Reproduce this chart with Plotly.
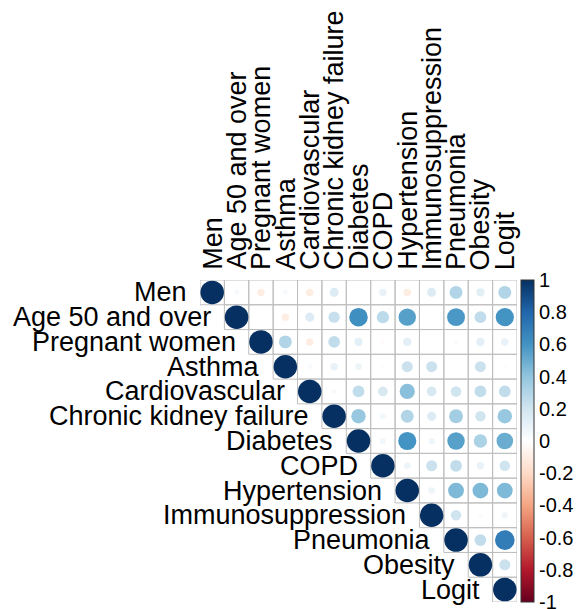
import plotly.graph_objects as go

labels = ["Men", "Age 50 and over", "Pregnant women", "Asthma", "Cardiovascular",
          "Chronic kidney failure", "Diabetes", "COPD", "Hypertension",
          "Immunosuppression", "Pneumonia", "Obesity", "Logit"]

# upper-triangle correlations, each row starts at the diagonal
r_men = [1, 0.04, -0.10, 0.04, -0.10, 0.15, 0.0, 0.10, -0.10, 0.15, 0.30, 0.12, 0.30]
r_age = [1, -0.01, -0.10, 0.15, 0.23, 0.62, 0.27, 0.55, 0.0, 0.58, 0.25, 0.60]
r_preg = [1, 0.30, -0.10, 0.25, 0.12, -0.03, 0.12, 0.0, 0.03, 0.12, 0.10]
r_asthma = [1, 0.04, 0.10, 0.08, 0.02, 0.22, 0.22, 0.02, 0.22, 0.02]
r_cardio = [1, 0.04, 0.25, 0.17, 0.42, 0.17, 0.20, 0.25, 0.25]
r_ckf = [1, 0.38, 0.06, 0.30, 0.15, 0.35, 0.20, 0.38]
r_diab = [1, 0.06, 0.60, 0.07, 0.55, 0.32, 0.50]
r_copd = [1, 0.08, 0.22, 0.25, 0.10, 0.20]
r_hyper = [1, 0.08, 0.45, 0.45, 0.45]
r_immuno = [1, 0.20, 0.03, 0.07]
r_pneu = [1, 0.25, 0.70]
r_obes = [1, 0.22]
r_logit = [1]

rows = [r_men, r_age, r_preg, r_asthma, r_cardio, r_ckf, r_diab, r_copd,
        r_hyper, r_immuno, r_pneu, r_obes, r_logit]

colorbar_vals = [1, 0.8, 0.6, 0.4, 0.2, 0, -0.2, -0.4, -0.6, -0.8, -0.999]
colorbar_text = ["1", "0.8", "0.6", "0.4", "0.2", "0", "-0.2", "-0.4", "-0.6", "-0.8", "-1"]

rdbu = ["#67001F", "#B2182B", "#D6604D", "#F4A582", "#FDDBC7", "#FFFFFF",
        "#D1E5F0", "#92C5DE", "#4393C3", "#2166AC", "#053061"]
cscale = [[i / 10, c] for i, c in enumerate(rdbu)]

n = len(labels)
xs, ys, vals = [], [], []
for i, row in enumerate(rows):
    for k, v in enumerate(row):
        xs.append(i + k)
        ys.append(i)
        vals.append(v)

DIAM = 23.5
sizes = [DIAM * abs(v) ** 0.5 for v in vals]

fig = go.Figure()

shapes = []
for i in range(n):
    for j in range(i, n):
        shapes.append(dict(type="rect", xref="x", yref="y",
                           x0=j - 0.5, x1=j + 0.5, y0=i - 0.5, y1=i + 0.5,
                           line=dict(color="#BEBEBE", width=1), layer="below"))

fig.add_trace(go.Scatter(
    x=xs, y=ys, mode="markers",
    marker=dict(size=sizes, color=vals, colorscale=cscale, cmin=-1, cmax=1,
                opacity=1, line=dict(width=0),
                colorbar=dict(thickness=13, thicknessmode="pixels",
                              len=1.0, lenmode="fraction", y=0.5, yanchor="middle",
                              x=1.012, xanchor="left", xpad=0, ypad=0,
                              outlinewidth=1, outlinecolor="#333333",
                              tickvals=colorbar_vals, ticktext=colorbar_text,
                              ticks="", ticklabeloverflow="allow",
                              tickfont=dict(family="Liberation Sans, Arial", size=20, color="black"))),
    hoverinfo="skip", showlegend=False))

annotations = []
for i, lab in enumerate(labels):
    annotations.append(dict(x=i - 0.5, y=i, xref="x", yref="y", text=lab,
                            showarrow=False, xanchor="right", yanchor="middle",
                            xshift=-11,
                            font=dict(family="Liberation Sans, Arial", size=27, color="black")))
    annotations.append(dict(x=i, y=-0.5, xref="x", yref="y", text=lab,
                            showarrow=False, textangle=-90, xanchor="center",
                            yanchor="bottom", yshift=8,
                            font=dict(family="Liberation Sans, Arial", size=27, color="black")))

fig.update_layout(
    width=576, height=609,
    margin=dict(l=200, r=52, t=280, b=7),
    paper_bgcolor="white", plot_bgcolor="white",
    xaxis=dict(range=[-0.5, n - 0.5], visible=False, fixedrange=True),
    yaxis=dict(range=[n - 0.5, -0.5], visible=False, fixedrange=True),
    shapes=shapes, annotations=annotations,
)

fig.write_html("out.html")
